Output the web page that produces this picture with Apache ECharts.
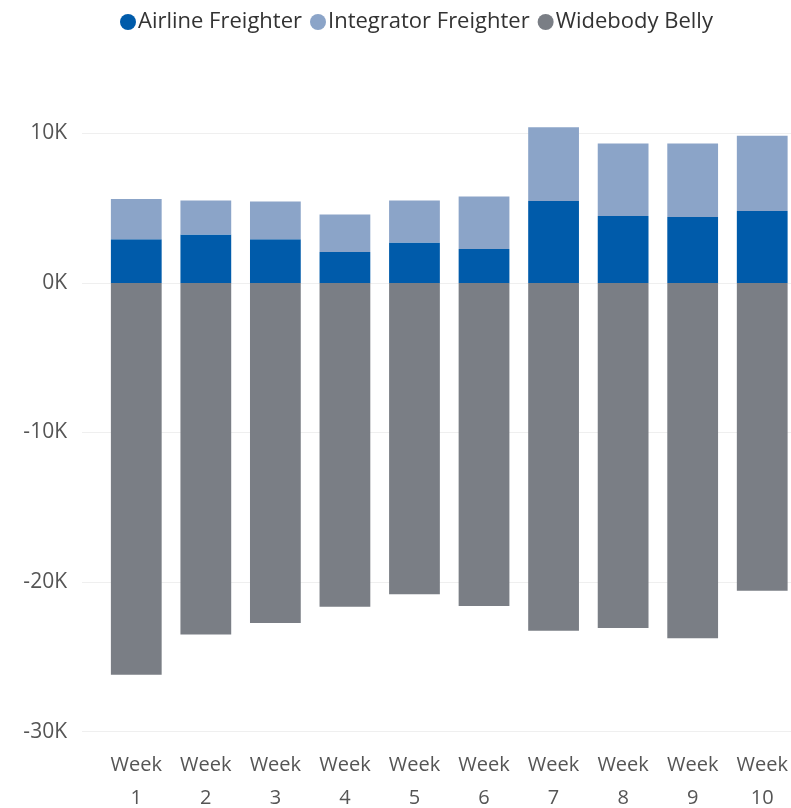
<!DOCTYPE html>
<html><head><meta charset="utf-8">
<script src="https://cdn.jsdelivr.net/npm/echarts@6/dist/echarts.min.js"></script>
<style>html,body{margin:0;padding:0;background:#fff}#c{width:791px;height:808px}</style>
</head><body><div id="c"></div>
<script>
const categories = ['Week\n1','Week\n2','Week\n3','Week\n4','Week\n5','Week\n6','Week\n7','Week\n8','Week\n9','Week\n10'];
const airlineFreighter = [2920, 3230, 2920, 2070, 2700, 2270, 5480, 4480, 4410, 4800];
const integratorFreighter = [2680, 2270, 2520, 2500, 2800, 3500, 4930, 4840, 4910, 5030];
const widebodyBelly = [-26200, -23500, -22740, -21650, -20820, -21600, -23260, -23060, -23750, -20580];
const yTicks = [-30000, -20000, -10000, 0, 10000];

const chart = echarts.init(document.getElementById('c'));
const font = 'Open Sans';
chart.setOption({
  animation: false,
  legend: {
    top: 6, left: 115, icon: 'circle', itemWidth: 16, itemHeight: 16, itemGap: 8,
    textStyle: {fontFamily: font, fontSize: 22, color: '#333', padding: [0,0,0,-3]},
    data: ['Airline Freighter','Integrator Freighter','Widebody Belly']
  },
  grid: [
    {left: 82, right: -10, top: 133.3, bottom: 76.3, outerBoundsMode: 'none', containLabel: false},
    {left: 101.5, width: 695.5, top: 133.3, bottom: 76.3, outerBoundsMode: 'none', containLabel: false}
  ],
  xAxis: [
    {gridIndex: 0, type: 'value', show: false, min: 0, max: 1},
    {gridIndex: 1, type: 'category', data: categories,
     axisLine: {show: false}, axisTick: {show: false},
     axisLabel: {fontFamily: font, fontSize: 20, color: '#555', lineHeight: 33, margin: 17, interval: 0}}
  ],
  yAxis: [
    {gridIndex: 0, type: 'value', min: yTicks[0], max: yTicks[yTicks.length-1], interval: 10000,
     axisLabel: {fontFamily: font, fontSize: 21, color: '#555', margin: 15,
       formatter: v => (v/1000) + 'K'},
     splitLine: {lineStyle: {color: '#efefef', width: 1}},
     axisLine: {show: false}, axisTick: {show: false}},
    {gridIndex: 1, type: 'value', min: yTicks[0], max: yTicks[yTicks.length-1], interval: 10000,
     show: false, splitLine: {show: false}}
  ],
  series: [
    {name: 'Airline Freighter', type: 'bar', stack: 'a', xAxisIndex: 1, yAxisIndex: 1,
     data: airlineFreighter, barCategoryGap: '27%', clip: false, itemStyle: {color: '#005BAA'}},
    {name: 'Integrator Freighter', type: 'bar', stack: 'a', xAxisIndex: 1, yAxisIndex: 1,
     data: integratorFreighter, clip: false, itemStyle: {color: '#8BA4C8'}},
    {name: 'Widebody Belly', type: 'bar', stack: 'a', xAxisIndex: 1, yAxisIndex: 1,
     data: widebodyBelly, clip: false, itemStyle: {color: '#7A7E85'}}
  ]
});
</script></body></html>
